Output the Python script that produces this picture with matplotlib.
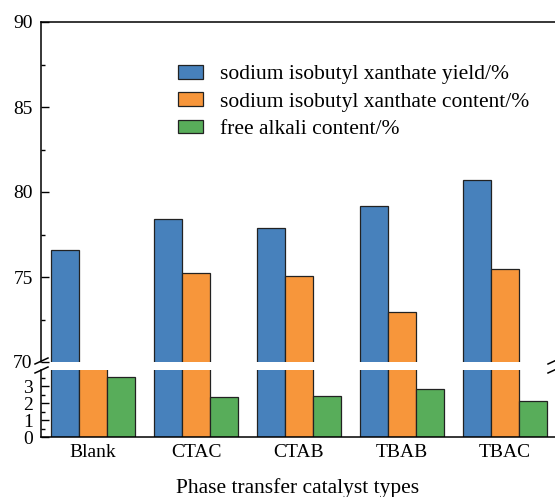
import matplotlib
matplotlib.use("Agg")
import matplotlib.pyplot as plt
import numpy as np

plt.rcParams['font.family'] = ['Liberation Serif', 'DejaVu Serif']
plt.rcParams['font.size'] = 14

# data
categories = ["Blank", "CTAC", "CTAB", "TBAB", "TBAC"]
yield_pct = [76.6, 78.4, 77.9, 79.2, 80.7]
content_pct = [68.5, 75.24, 75.08, 72.94, 75.45]
alkali_pct = [3.51, 2.33, 2.39, 2.82, 2.14]
series_labels = ["sodium isobutyl xanthate yield/%",
                 "sodium isobutyl xanthate content/%",
                 "free alkali content/%"]
colors = ["#4781bc", "#f7963b", "#58ad5a"]

fig = plt.figure(figsize=(5.55, 4.97), dpi=100)
W, H = 555, 497
left = 41 / W
ax_top = fig.add_axes([left, 1 - 362 / H, 1 - left, (362 - 22) / H])
ax_bot = fig.add_axes([left, 1 - 437 / H, 1 - left, (437 - 370) / H])

x = np.arange(len(categories))
w = 0.272
series = [yield_pct, content_pct, alkali_pct]
for ax in (ax_top, ax_bot):
    for i, vals in enumerate(series):
        ax.bar(x + (i - 1) * w, vals, w, color=colors[i], edgecolor="#222222",
               linewidth=0.9, label=series_labels[i])
    ax.set_xlim(-0.505, 4.485)
    ax.spines['right'].set_visible(False)
    ax.tick_params(axis='y', which='major', direction='in', length=6, width=1, pad=6)
    ax.tick_params(axis='y', which='minor', direction='in', length=3, width=1)
    for s in ax.spines.values():
        s.set_linewidth(1.1)

ax_top.set_ylim(70, 90)
ax_top.set_yticks([70, 75, 80, 85, 90])
ax_top.set_yticks([72.5, 77.5, 82.5, 87.5], minor=True)
ax_top.spines['bottom'].set_visible(False)
ax_top.tick_params(axis='x', bottom=False, labelbottom=False)

ax_bot.set_ylim(0, 3.95)
ax_bot.set_yticks([0, 1, 2, 3])
ax_bot.set_yticks([0.5, 1.5, 2.5, 3.5], minor=True)
ax_bot.spines['top'].set_visible(False)
ax_bot.set_xticks(x)
ax_bot.set_xticklabels(categories)
ax_bot.tick_params(axis='x', length=0, pad=5)
ax_bot.set_xlabel("Phase transfer catalyst types", labelpad=12, fontsize=15.5)

# break marks
kw = dict(color="black", linewidth=1.1, clip_on=False, transform=fig.transFigure)
for yc in (361, 370):
    fig.add_artist(plt.Line2D([35 / W, 48 / W], [1 - (yc + 3) / H, 1 - (yc - 3) / H], **kw))
    fig.add_artist(plt.Line2D([548 / W, 561 / W], [1 - (yc + 3) / H, 1 - (yc - 3) / H], **kw))

handles, labels = ax_top.get_legend_handles_labels()
ax_top.legend(handles, labels, loc="upper left", bbox_to_anchor=(178 / W, 1 - 65 / H),
              bbox_transform=fig.transFigure, frameon=False, fontsize=15.5,
              borderpad=0, borderaxespad=0,
              handlelength=1.15, handleheight=0.6, handletextpad=0.8, labelspacing=0.37)

fig.savefig("out.png", dpi=100)
